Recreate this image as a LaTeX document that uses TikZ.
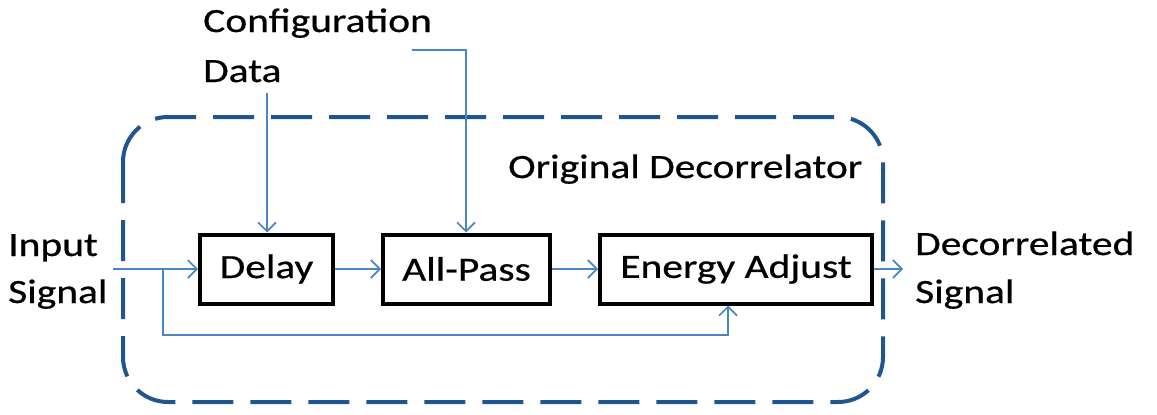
\documentclass[tikz,border=0pt]{standalone}
\usepackage{fontspec}
\setmainfont{Carlito}[FakeStretch=1.22, FakeBold=0.6]
\usetikzlibrary{arrows.meta}
\definecolor{sigblue}{HTML}{4A86C5}
\definecolor{frameblue}{HTML}{1F5690}
\tikzset{
  lbl/.style={inner sep=0pt, font=\fontsize{34}{40}\selectfont},
  blockbox/.style={draw=black, line width=4pt, inner sep=0pt, minimum height=69pt, font=\fontsize{34}{40}\selectfont},
  sig/.style={draw=sigblue, line width=1.6pt, -{Straight Barb[length=9pt,width=18pt,line width=1.6pt]}},
  frame/.style={draw=frameblue, line width=4pt, rounded corners=45pt, dash pattern=on 41pt off 17pt}
}
\begin{document}
\begin{tikzpicture}[x=1pt,y=-1pt]
\useasboundingbox (0,0) rectangle (1157,415);

% dashed enclosure of the decorrelator
\draw[frame] (123,117) rectangle (883,402);
\node[lbl, anchor=base west] (title) at (508,178) {Original Decorrelator};

% processing blocks
\node[blockbox, minimum width=133pt] (delay) at (266.5,269) {Delay};
\node[blockbox, minimum width=167pt] (allpass) at (466.5,269) {All-Pass};
\node[blockbox, minimum width=272pt] (energy) at (736,269) {Energy Adjust};

% external labels
\node[lbl, anchor=base west] (cfg1) at (203,32) {Configuration};
\node[lbl, anchor=base west] (cfg2) at (203,82) {Data};
\node[lbl, anchor=base west] (in1) at (8,256) {Input};
\node[lbl, anchor=base west] (in2) at (8,303) {Signal};
\node[lbl, anchor=base west] (out1) at (915,255) {Decorrelated};
\node[lbl, anchor=base west] (out2) at (915,303) {Signal};

% connection points
\coordinate (src) at (113,269);
\coordinate (split) at (163,269);
\coordinate (bypass) at (163,335);
\coordinate (cfgA) at (267,93);
\coordinate (cfgB) at (412,50);
\coordinate (cfgBc) at (466,50);
\coordinate (sink) at (903,269);

% signal path
\draw[sig] (src) -- (delay.west);
\draw[sig] (delay.east) -- (allpass.west);
\draw[sig] (allpass.east) -- (energy.west);
\draw[sig] (energy.east) -- (sink);
\draw[sig] (split) -- (bypass) -| ([xshift=-8pt]energy.south);

% configuration inputs
\draw[sig] (cfgA) -- (cfgA |- delay.north);
\draw[sig] (cfgB) -- (cfgBc) -- (cfgBc |- allpass.north);
\end{tikzpicture}
\end{document}
